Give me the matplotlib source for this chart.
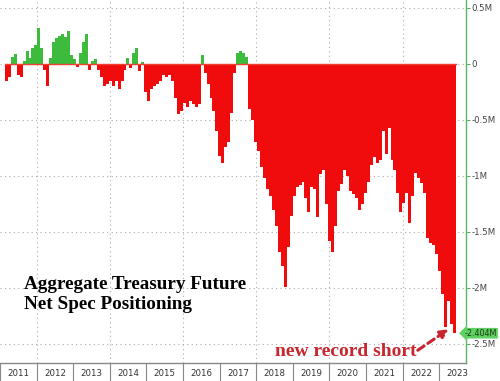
import matplotlib.pyplot as plt
import numpy as np

# aggregate net spec positioning, millions of contracts (sampled roughly every month)
start_year = 2011.13
end_year = 2023.37
positioning = [
    -0.15, -0.12, 0.06, 0.09, -0.10, -0.12, 0.03, 0.12, 0.05, 0.14,
    0.17, 0.32, 0.14, -0.05, -0.20, 0.05, 0.20, 0.23, 0.25, 0.27,
    0.24, 0.29, 0.08, 0.04, -0.03, 0.10, 0.20, 0.27, -0.05, 0.03,
    0.04, -0.05, -0.12, -0.20, -0.18, -0.15, -0.20, -0.15, -0.22, -0.15,
    -0.05, 0.05, -0.04, 0.10, 0.14, -0.06, 0.02, -0.25, -0.33, -0.22,
    -0.20, -0.18, -0.15, -0.10, -0.12, -0.10, -0.15, -0.30, -0.45, -0.42,
    -0.35, -0.38, -0.33, -0.36, -0.38, -0.36, 0.08, -0.08, -0.18, -0.30,
    -0.42, -0.60, -0.82, -0.88, -0.74, -0.70, -0.44, -0.08, 0.10, 0.12,
    0.10, 0.06, -0.40, -0.50, -0.70, -0.78, -0.92, -1.02, -1.12, -1.18,
    -1.30, -1.45, -1.68, -1.80, -1.99, -1.63, -1.36, -1.18, -1.10, -1.08,
    -1.05, -1.20, -1.32, -1.10, -1.12, -1.37, -0.98, -0.95, -1.25, -1.58,
    -1.68, -1.45, -1.13, -1.07, -0.95, -1.00, -1.13, -1.16, -1.20, -1.30,
    -1.25, -1.15, -1.05, -0.90, -0.83, -0.88, -0.86, -0.60, -0.80, -0.57,
    -0.86, -0.95, -1.15, -1.32, -1.24, -1.15, -1.42, -1.18, -0.97, -1.02,
    -1.06, -1.15, -1.55, -1.60, -1.62, -1.70, -1.85, -2.05, -2.35, -2.12,
    -2.32, -2.404,
]
years = list(range(2011, 2024))
y_ticks = [0.5, 0, -0.5, -1, -1.5, -2, -2.5]
y_labels = ['0.5M', '0', '-0.5M', '-1M', '-1.5M', '-2M', '-2.5M']
last_label = '-2.404M'

vals = np.array(positioning)
x = np.linspace(start_year, end_year, len(vals))
step = x[1] - x[0]

fig = plt.figure(figsize=(5.0, 3.81), dpi=100)
ax = fig.add_axes([0.0, 0.0472, 0.932, 0.9528])

colors = np.where(vals >= 0, '#3dbb3d', '#f00c0c')
ax.bar(x, vals, width=step * 1.02, color=colors, align='edge', linewidth=0, zorder=2)
ax.plot([x[0], x[-1] + step], [0, 0], color='#f04030', linewidth=1.0, zorder=3)

ax.set_xlim(2011.135, 2023.73)
ax.set_ylim(-2.67, 0.571)

# grid
for yv in y_ticks:
    ax.axhline(yv, color='#aaaaaa', linestyle=(0, (1, 3)), linewidth=0.8, zorder=1)
for yr in range(2012, 2024, 2):
    ax.axvline(yr, color='#aaaaaa', linestyle=(0, (1, 3)), linewidth=0.8, zorder=1)

# x axis: year boundaries as separators, labels centred in each year
ax.set_xticks(years)
ax.set_xticklabels([])
ax.tick_params(axis='x', which='major', length=18, width=0.8, color='#888888', direction='out')
ax.set_xticks([yr + 0.5 for yr in years], minor=True)
ax.set_xticklabels([str(yr) for yr in years], minor=True, fontsize=6.2, color='#333333')
ax.tick_params(axis='x', which='minor', length=0, pad=4)

# y axis on the right
ax.yaxis.tick_right()
ax.set_yticks(y_ticks)
ax.set_yticklabels(y_labels, fontsize=6.2, color='#444444')
ax.tick_params(axis='y', which='major', length=3, width=0.8, color='#5cb85c', pad=1)
ax.set_yticks(np.arange(-2.5, 0.6, 0.25), minor=True)
ax.tick_params(axis='y', which='minor', length=0)

for side in ['top', 'left']:
    ax.spines[side].set_visible(False)
ax.spines['right'].set_color('#5cb85c')
ax.spines['right'].set_linewidth(1.0)
ax.spines['bottom'].set_color('#888888')
ax.spines['bottom'].set_linewidth(1.0)

# last value tag, right-aligned to the figure edge
tag_y = ax.transData.transform((0, vals[-1]))[1] / fig.bbox.height
fig.text(0.994, tag_y, last_label, ha='right', va='center',
         fontsize=5.8, color='#1a3a1a',
         bbox=dict(boxstyle='larrow,pad=0.1', fc='#5fd05f', ec='none'))

# titles
ax.text(2011.65, -2.06, 'Aggregate Treasury Future\nNet Spec Positioning',
        fontsize=13.8, fontweight='bold', family='Liberation Serif',
        color='black', ha='left', va='center', linespacing=1.2)
ax.text(2018.5, -2.57, 'new record short', fontsize=14, fontweight='bold',
        family='Liberation Serif', color='#c8262e', ha='left', va='center')
ax.annotate('', xy=(x[-1] - 0.05, vals[-1] + 0.05), xytext=(2022.35, -2.57),
            arrowprops=dict(arrowstyle='-|>', color='#c8262e', lw=2.2,
                            linestyle=(0, (2.5, 1.5)), mutation_scale=12))

fig.savefig('out.png', dpi=100)
